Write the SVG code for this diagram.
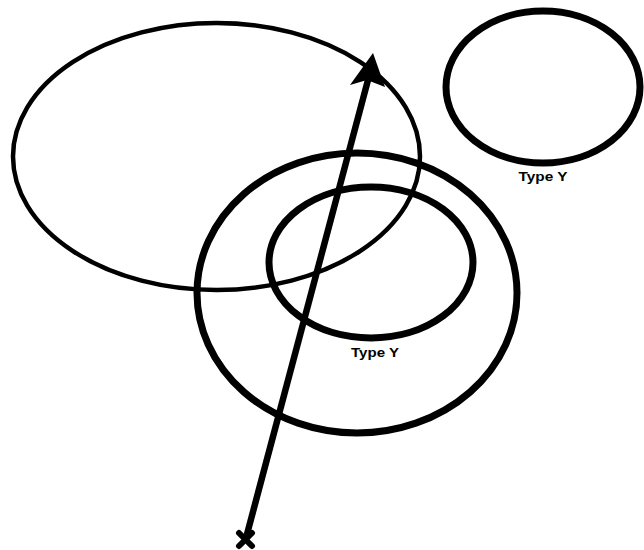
<svg xmlns="http://www.w3.org/2000/svg" width="644" height="550" viewBox="0 0 644 550">
<style>
.thin{fill:none;stroke:#000;stroke-width:4.5}
.thick{fill:none;stroke:#000;stroke-width:7}
.lbl{font-family:"Liberation Sans",Arial,sans-serif;font-weight:bold;font-size:13.5px;fill:#000;text-anchor:middle}
</style>
<rect width="644" height="550" fill="#fff"/>
<g id="region-large">
<ellipse class="thin" cx="216.5" cy="156.5" rx="203.5" ry="133.5"/>
</g>
<g id="type-y-outer">
<ellipse class="thick" cx="357" cy="293" rx="160" ry="140"/>
</g>
<g id="type-y-inner">
<ellipse class="thick" cx="371" cy="262.5" rx="102" ry="75.5"/>
<text class="lbl" x="375" y="357" textLength="48" lengthAdjust="spacingAndGlyphs">Type Y</text>
</g>
<g id="type-y-right">
<ellipse class="thick" cx="543" cy="87" rx="97" ry="76"/>
<text class="lbl" x="543" y="181" textLength="49" lengthAdjust="spacingAndGlyphs">Type Y</text>
</g>
<g id="connectors">
<line x1="246" y1="538" x2="368" y2="80" stroke="#000" stroke-width="6.5"/>
<polygon points="373,53 385,87 367,80 350,85" fill="#000"/>
<g id="start-mark" stroke="#000" stroke-width="6" stroke-linecap="round">
<line x1="239" y1="533" x2="252" y2="546"/>
<line x1="252" y1="533" x2="239" y2="546"/>
</g>
</g>
</svg>
